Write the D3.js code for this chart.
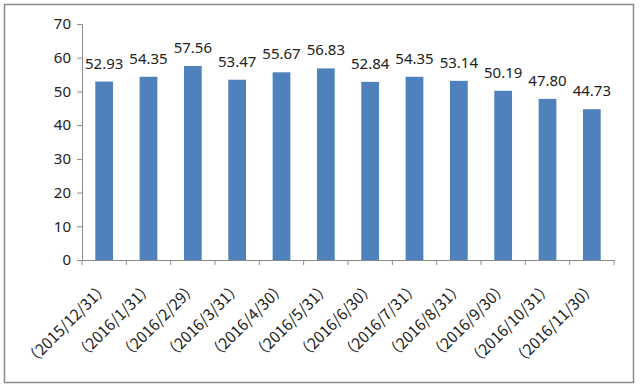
<!DOCTYPE html>
<html>
<head>
<meta charset="utf-8">
<script src="https://cdn.jsdelivr.net/npm/d3@7"></script>
<style>
  body { margin: 0; background: #fff; }
  text { font-family: "Noto Sans", "Noto Sans CJK SC", sans-serif; fill: #222; }
</style>
</head>
<body>
<div id="chart"></div>
<script>
// dates (x categories) and values
let dates = ["（2015/12/31）", "（2016/1/31）", "（2016/2/29）", "（2016/3/31）", "（2016/4/30）", "（2016/5/31）",
             "（2016/6/30）", "（2016/7/31）", "（2016/8/31）", "（2016/9/30）", "（2016/10/31）", "（2016/11/30）"];
let values = [52.93, 54.35, 57.56, 53.47, 55.67, 56.83, 52.84, 54.35, 53.14, 50.19, 47.80, 44.73];
let y_ticks = [0, 10, 20, 30, 40, 50, 60, 70];

let width = 640, height = 388;
let margin = {left: 82, right: 26, top: 24, bottom: 128};

let svg = d3.select("#chart")
            .append("svg")
            .attr("width", width)
            .attr("height", height);

// outer frame
svg.append("rect")
   .attr("x", 4.5).attr("y", 4.5)
   .attr("width", 629).attr("height", 378)
   .attr("fill", "#fff")
   .attr("stroke", "#8a8a8a")
   .attr("stroke-width", 1.5);

let x = d3.scaleBand()
          .domain(dates)
          .range([margin.left, width - margin.right])
          .paddingInner(0.6)
          .paddingOuter(0.3);

let y = d3.scaleLinear()
          .domain([0, 70])
          .range([height - margin.bottom, margin.top]);

// y axis
let yAxis = svg.append("g")
               .attr("transform", `translate(${margin.left},0)`)
               .call(d3.axisLeft(y).tickValues(y_ticks).tickSize(5).tickPadding(6));
yAxis.selectAll("text").style("font-size", "15px").attr("fill", "#222");

// x axis, labels rotated -45 and ending under the band
let xAxis = svg.append("g")
               .attr("transform", `translate(0,${height - margin.bottom})`)
               .call(d3.axisBottom(x).tickSize(0));
xAxis.selectAll("text")
     .style("font-family", "'Noto Sans CJK SC', sans-serif")
     .style("font-size", "15.5px")
     .attr("fill", "#222")
     .style("text-anchor", "end")
     .attr("x", 0).attr("y", 0).attr("dx", 0).attr("dy", 0)
     .attr("transform", "translate(6,28) rotate(-45)");

// boundary ticks
let bounds = d3.range(dates.length + 1).map(function(i) { return margin.left + i * (width - margin.left - margin.right) / dates.length; });
xAxis.selectAll(".bound")
     .data(bounds)
     .enter()
     .append("line")
     .attr("x1", function(d) { return d; })
     .attr("x2", function(d) { return d; })
     .attr("y1", 0).attr("y2", 5)
     .attr("stroke", "#8a8a8a");

svg.selectAll(".domain, .tick line").attr("stroke", "#8a8a8a");

// bars
svg.selectAll(".bar")
   .data(values)
   .enter()
   .append("rect")
   .attr("class", "bar")
   .attr("x", function(d, i) { return x(dates[i]); })
   .attr("y", function(d) { return y(d); })
   .attr("width", x.bandwidth())
   .attr("height", function(d) { return y(0) - y(d); })
   .attr("fill", "#4f81bd");

// value labels
svg.selectAll(".label")
   .data(values)
   .enter()
   .append("text")
   .attr("x", function(d, i) { return x(dates[i]) + x.bandwidth() / 2; })
   .attr("y", function(d) { return y(d) - 13; })
   .style("text-anchor", "middle")
   .style("font-size", "15px")
   .text(function(d) { return d.toFixed(2); });
</script>
</body>
</html>
